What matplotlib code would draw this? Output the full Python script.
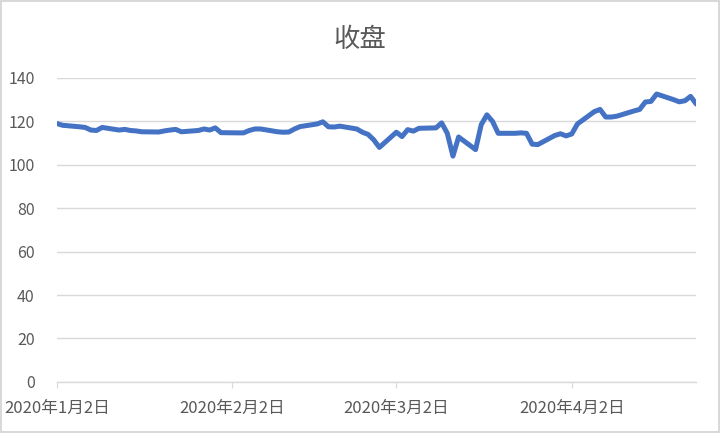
import numpy as np
import pandas as pd
import matplotlib
matplotlib.use("Agg")
import matplotlib.pyplot as plt

plt.rcParams['font.family'] = ['Noto Sans CJK SC', 'DejaVu Sans']

# trading days and closing prices
dates = ["2020-01-02", "2020-01-03", "2020-01-06", "2020-01-07", "2020-01-08",
         "2020-01-09", "2020-01-10", "2020-01-13", "2020-01-14", "2020-01-15",
         "2020-01-16", "2020-01-17", "2020-01-20", "2020-01-21", "2020-01-22",
         "2020-01-23", "2020-01-24", "2020-01-27", "2020-01-28", "2020-01-29",
         "2020-01-30", "2020-01-31", "2020-02-03", "2020-02-04", "2020-02-05",
         "2020-02-06", "2020-02-07", "2020-02-10", "2020-02-11", "2020-02-12",
         "2020-02-13", "2020-02-14", "2020-02-17", "2020-02-18", "2020-02-19",
         "2020-02-20", "2020-02-21", "2020-02-24", "2020-02-25", "2020-02-26",
         "2020-02-27", "2020-02-28", "2020-03-02", "2020-03-03", "2020-03-04",
         "2020-03-05", "2020-03-06", "2020-03-09", "2020-03-10", "2020-03-11",
         "2020-03-12", "2020-03-13", "2020-03-16", "2020-03-17", "2020-03-18",
         "2020-03-19", "2020-03-20", "2020-03-23", "2020-03-24", "2020-03-25",
         "2020-03-26", "2020-03-27", "2020-03-30", "2020-03-31", "2020-04-01",
         "2020-04-02", "2020-04-03", "2020-04-06", "2020-04-07", "2020-04-08",
         "2020-04-09", "2020-04-10", "2020-04-13", "2020-04-14", "2020-04-15",
         "2020-04-16", "2020-04-17", "2020-04-20", "2020-04-21", "2020-04-22",
         "2020-04-23", "2020-04-24"]
close = [119.0, 118.2, 117.5, 117.2, 116.0,
         115.8, 117.2, 116.0, 116.3, 115.8,
         115.6, 115.2, 115.1, 115.6, 116.0,
         116.3, 115.2, 115.8, 116.5, 116.0,
         117.0, 114.8, 114.7, 114.7, 115.8,
         116.5, 116.5, 115.2, 115.0, 115.1,
         116.5, 117.6, 118.8, 119.8, 117.5,
         117.4, 117.8, 116.5, 115.0, 114.0,
         111.5, 108.0, 115.0, 113.0, 116.2,
         115.5, 116.8, 117.0, 119.3, 114.5,
         104.0, 112.8, 107.0, 118.5, 123.0,
         120.0, 114.5, 114.5, 114.7, 114.5,
         109.5, 109.3, 113.5, 114.3, 113.3,
         114.2, 118.8, 124.5, 125.5, 122.0,
         122.0, 122.4, 124.8, 125.5, 128.9,
         129.2, 132.6, 130.0, 129.0, 129.5,
         131.5, 128.0]

tick_dates = ["2020-01-02", "2020-02-02", "2020-03-02", "2020-04-02"]
tick_labels = ["2020年1月2日", "2020年2月2日", "2020年3月2日", "2020年4月2日"]
y_ticks = [0, 20, 40, 60, 80, 100, 120, 140]

x = pd.to_datetime(dates)
grid_c = "#D9D9D9"
text_c = "#595959"

fig = plt.figure(figsize=(7.2, 4.33), dpi=100)
fig.patch.set_edgecolor(grid_c)
fig.patch.set_linewidth(1.5)
ax = fig.add_axes([0.079, 0.118, 0.888, 0.702])

ax.plot(x, close, color="#4472C4", lw=3.6, solid_joinstyle="round",
        solid_capstyle="round", zorder=3)

ax.set_xlim(x[0], x[-1])
ax.set_ylim(0, 140)
ax.set_yticks(y_ticks)
ax.set_xticks(pd.to_datetime(tick_dates))
ax.set_xticklabels(tick_labels)

for s in ["top", "right", "left"]:
    ax.spines[s].set_visible(False)
ax.spines["bottom"].set_color(grid_c)
ax.spines["bottom"].set_linewidth(1)
ax.grid(axis="y", color=grid_c, lw=1)
ax.set_axisbelow(True)
ax.tick_params(axis="y", length=0, labelsize=11.5, labelcolor=text_c, pad=16)
ax.tick_params(axis="x", length=4, color=grid_c, labelsize=12,
               labelcolor=text_c, pad=9)

fig.suptitle("收盘", y=0.94, fontsize=19, color=text_c)

fig.savefig("out.png", dpi=100)
